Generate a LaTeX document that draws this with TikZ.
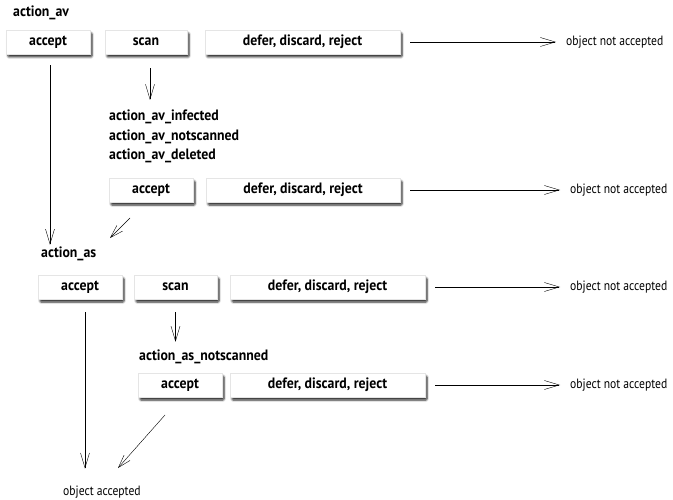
\documentclass[tikz,border=0pt]{standalone}
\usepackage{fontspec}
\setmainfont{PT Sans}[FakeStretch=0.86]
\newfontfamily\boldlbl{PT Sans}[FakeStretch=0.92]
\usetikzlibrary{arrows.meta,shadows.blur}
\tikzset{
  box/.style={fill=white, draw=black!10, minimum height=24pt, minimum width=84pt, inner sep=0pt,
    font=\boldlbl\bfseries\fontsize{15}{17}\selectfont,
    blur shadow={shadow blur steps=6, shadow blur extra rounding=1pt, shadow xshift=2pt, shadow yshift=-3pt, shadow opacity=85}},
  lbl/.style={font=\boldlbl\bfseries\fontsize{15}{17}\selectfont, inner sep=0pt},
  res/.style={font=\fontsize{13.5}{16}\selectfont, inner sep=0pt, anchor=west},
  arr/.style={-{Straight Barb[length=15pt,width=9pt,line width=0.4pt]}, line width=0.5pt},
  thin/.style={-{Straight Barb[length=13pt,width=8pt,line width=0.4pt]}, line width=0.4pt}
}
\begin{document}
\begin{tikzpicture}[x=1pt,y=-1pt]
  \useasboundingbox (0,0) rectangle (673,500);
  \newcommand{\gapL}{10pt}
  \newcommand{\gapR}{10pt}

  % action_av
  \node[lbl, anchor=west] (avl) at (13,13) {action\_av};
  \node[box] (avacc) at (48,42) {accept};
  \node[box, minimum width=82pt] (avscan) at (146,42) {scan};
  \node[box, minimum width=195pt] (avdef) at (302.5,42) {defer, discard, reject};
  \node[res] (avno) at (566,42) {object not accepted};
  \draw[arr, shorten <=\gapL, shorten >=\gapR] (avdef.east) -- (avno.west);

  % after scan
  \node[lbl, anchor=north west, align=left] (avsl) at (109,110)
    {action\_av\_infected\\[2.5pt]action\_av\_notscanned\\[2.5pt]action\_av\_deleted};
  \draw[arr, shorten <=14pt, shorten >=10pt] ([xshift=4pt]avscan.south) -- ([xshift=4pt]avscan.south |- avsl.north);
  \node[box] (avsacc) at (151,190) {accept};
  \node[box, minimum width=194pt] (avsdef) at (303,190) {defer, discard, reject};
  \node[res] (avsno) at (570,190) {object not accepted};
  \draw[arr, shorten <=\gapL, shorten >=\gapR] (avsdef.east) -- (avsno.west);

  % action_as
  \node[lbl, anchor=west] (asl) at (41,254) {action\_as};
  \draw[arr, shorten <=11pt, shorten >=2pt] ([xshift=2pt]avacc.south) -- ([xshift=2pt]avacc.south |- asl.north);
  \coordinate (avsend) at (110,238);
  \draw[thin] (130,218) coordinate (avsstart) -- (avsend);
  \node[box] (asacc) at (80,287) {accept};
  \node[box, minimum width=83pt] (asscan) at (175.5,287) {scan};
  \node[box, minimum width=195pt] (asdef) at (327.5,287) {defer, discard, reject};
  \node[res] (asno) at (570,287) {object not accepted};
  \draw[arr, shorten <=\gapL, shorten >=\gapR] (asdef.east) -- (asno.west);

  % after scan
  \node[lbl, anchor=west] (assl) at (139,357) {action\_as\_notscanned};
  \draw[arr, shorten <=13pt, shorten >=8pt] (asscan.south) -- (asscan.south |- assl.north);
  \node[box] (assacc) at (180,385) {accept};
  \node[box, minimum width=195pt] (assdef) at (327.5,385) {defer, discard, reject};
  \node[res] (assno) at (570,385) {object not accepted};
  \draw[arr, shorten <=\gapL, shorten >=\gapR] (assdef.east) -- (assno.west);

  % end
  \node[res] (ok) at (63,492) {object accepted};
  \draw[arr, shorten <=13pt, shorten >=17pt] ([xshift=5pt]asacc.south) -- ([xshift=5pt]asacc.south |- ok.north);
  \coordinate (assend) at (118,468);
  \draw[thin] (165,415) coordinate (assstart) -- (assend);
\end{tikzpicture}
\end{document}
